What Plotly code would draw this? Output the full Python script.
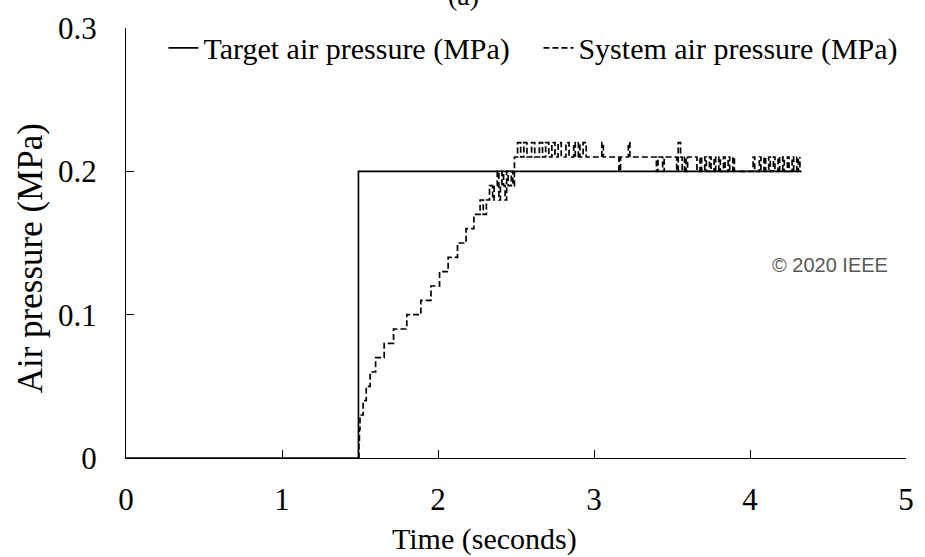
import plotly.graph_objects as go

# Target air pressure (step input)
target_t = [0.0, 1.49, 1.49, 4.33]
target_p = [0.0, 0.0, 0.2, 0.2]

# System air pressure: step-change instants (s) and held values (MPa)
system_t = [1.490, 1.493, 1.496, 1.500, 1.520, 1.540, 1.565, 1.600, 1.655, 1.715,
            1.800, 1.890, 1.955, 2.010, 2.065, 2.125, 2.180, 2.230, 2.270, 2.290,
            2.310, 2.330, 2.350, 2.360, 2.380, 2.390, 2.400, 2.410, 2.420, 2.430,
            2.440, 2.450, 2.470, 2.480, 2.490, 2.510, 2.530, 2.550, 2.570, 2.600,
            2.620, 2.650, 2.670, 2.690, 2.710, 2.730, 2.750, 2.770, 2.790, 2.820,
            2.840, 2.870, 2.880, 2.900, 2.910, 2.930, 2.950, 3.050, 3.060, 3.160,
            3.170, 3.220, 3.230, 3.400, 3.410, 3.440, 3.450, 3.530, 3.540, 3.555,
            3.565, 3.580, 3.590, 3.600, 3.620, 3.660, 3.680, 3.690, 3.710, 3.720,
            3.740, 3.750, 3.770, 3.780, 3.800, 3.810, 3.830, 3.840, 3.860, 3.870,
            3.890, 3.900, 4.020, 4.030, 4.060, 4.070, 4.090, 4.100, 4.120, 4.130,
            4.150, 4.160, 4.180, 4.190, 4.210, 4.220, 4.240, 4.250, 4.270, 4.280,
            4.300, 4.310, 4.320]
system_p = [0.00, 0.01, 0.02, 0.03, 0.04, 0.05, 0.06, 0.07, 0.08, 0.09,
            0.10, 0.11, 0.12, 0.13, 0.14, 0.15, 0.16, 0.17, 0.18, 0.17,
            0.18, 0.19, 0.18, 0.19, 0.20, 0.18, 0.19, 0.20, 0.19, 0.18,
            0.20, 0.19, 0.20, 0.19, 0.21, 0.22, 0.21, 0.22, 0.21, 0.22,
            0.21, 0.22, 0.21, 0.22, 0.21, 0.22, 0.21, 0.22, 0.21, 0.22,
            0.21, 0.22, 0.21, 0.22, 0.21, 0.22, 0.21, 0.22, 0.21, 0.20,
            0.21, 0.22, 0.21, 0.20, 0.21, 0.20, 0.21, 0.20, 0.22, 0.21,
            0.20, 0.21, 0.20, 0.21, 0.21, 0.20, 0.21, 0.20, 0.21, 0.20,
            0.21, 0.20, 0.21, 0.20, 0.21, 0.20, 0.21, 0.20, 0.21, 0.20,
            0.21, 0.20, 0.21, 0.20, 0.21, 0.20, 0.21, 0.20, 0.21, 0.20,
            0.21, 0.20, 0.21, 0.20, 0.21, 0.20, 0.21, 0.20, 0.21, 0.20,
            0.21, 0.20, 0.21]

x_ticks = [0, 1, 2, 3, 4, 5]
y_ticks = [0, 0.1, 0.2, 0.3]
y_tick_labels = ["0", "0.1", "0.2", "0.3"]

SERIF = "Liberation Serif, Times New Roman, serif"

fig = go.Figure()
fig.add_trace(go.Scatter(x=target_t, y=target_p, mode="lines",
                         name="Target air pressure (MPa)",
                         line=dict(color="black", width=1.7)))
fig.add_trace(go.Scatter(x=system_t, y=system_p, mode="lines",
                         name="System air pressure (MPa)",
                         line=dict(color="black", width=1.7, dash="6px,3px", shape="hv")))

fig.update_layout(
    width=925, height=557,
    margin=dict(l=126, r=11, t=27, b=99),
    paper_bgcolor="white", plot_bgcolor="white",
    font=dict(family=SERIF, color="black"),
    showlegend=True,
    legend=dict(orientation="h", x=0.048, y=0.954, xanchor="left", yanchor="middle",
                font=dict(family=SERIF, size=30, color="black"),
                bgcolor="rgba(0,0,0,0)", entrywidth=330, entrywidthmode="pixels",
                traceorder="normal"),
    xaxis=dict(range=[0, 5], tickvals=x_ticks, ticktext=[str(v) for v in x_ticks],
               showgrid=False, zeroline=False, showline=True, linecolor="black",
               linewidth=1.3, ticks="inside", ticklen=8, tickcolor="black", tickwidth=1.3,
               tickfont=dict(family=SERIF, size=31, color="black"),
               ticklabelstandoff=14),
    yaxis=dict(range=[0, 0.3], tickvals=y_ticks, ticktext=y_tick_labels,
               showgrid=False, zeroline=False, showline=True, linecolor="black",
               linewidth=1.3, ticks="inside", ticklen=8, tickcolor="black", tickwidth=1.3,
               tickfont=dict(family=SERIF, size=31, color="black"),
               ticklabelstandoff=22),
    annotations=[
        dict(text="Time (seconds)", xref="paper", yref="paper", x=0.46, y=-0.188,
             xanchor="center", yanchor="middle", showarrow=False,
             font=dict(family=SERIF, size=30, color="black")),
        dict(text="Air pressure (MPa)", xref="paper", yref="paper", x=-0.122, y=0.464,
             xanchor="center", yanchor="middle", textangle=-90, showarrow=False,
             font=dict(family=SERIF, size=35, color="black")),
        dict(text="(a)", xref="paper", yref="paper", x=0.433, y=1.075,
             xanchor="center", yanchor="middle", showarrow=False,
             font=dict(family=SERIF, size=28, color="black")),
        dict(text="© 2020 IEEE", xref="paper", yref="paper", x=0.98, y=0.448,
             xanchor="right", yanchor="middle", showarrow=False,
             font=dict(family="Liberation Sans, Arial, sans-serif", size=20, color="#595959")),
    ],
)

fig.write_html("out.html")
